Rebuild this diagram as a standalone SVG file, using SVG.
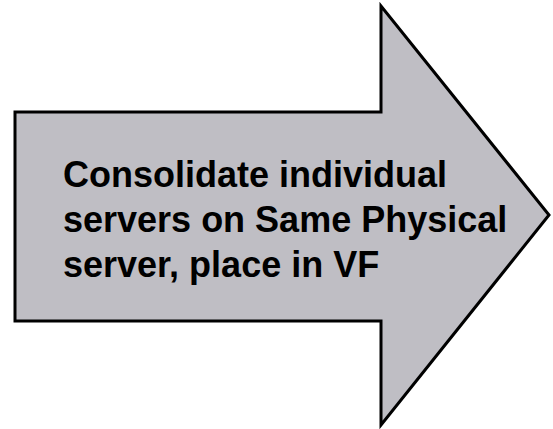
<svg xmlns="http://www.w3.org/2000/svg" width="553" height="429" viewBox="0 0 553 429">
  <style>
    .arrow { fill: #bfbec4; stroke: #000000; stroke-width: 3; stroke-linejoin: miter; }
    .label { font-family: "Liberation Sans", Arial, sans-serif; font-weight: bold; font-size: 36px; fill: #000000; }
  </style>
  <rect width="553" height="429" fill="#ffffff"/>
  <g id="block-arrow">
    <polygon class="arrow" points="15,112 381,112 381,6 549,215 381,425 381,321 15,321"/>
    <text class="label" x="63" y="187">Consolidate individual</text>
    <text class="label" x="63" y="232">servers on Same Physical</text>
    <text class="label" x="63" y="277">server, place in VF</text>
  </g>
  <g id="connectors"/>
</svg>
